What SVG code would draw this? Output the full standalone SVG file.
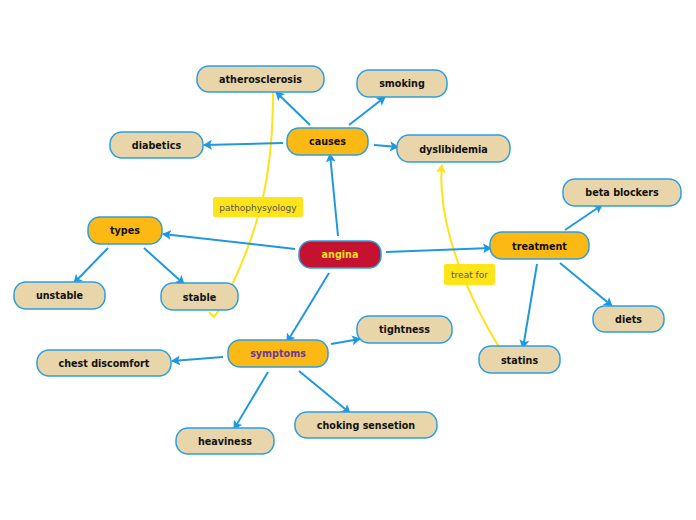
<svg xmlns="http://www.w3.org/2000/svg" width="696" height="520" viewBox="0 0 696 520">
<defs>
<style>
.n rect{stroke:#2c9ee0;stroke-width:1.5}
.sub rect{fill:#e8d5aa}
.mid rect{fill:#fdb913}
.n text{font-family:"DejaVu Sans",Verdana,sans-serif;font-weight:bold;font-size:9.6px;text-anchor:middle;fill:#111}
.c line{stroke:#2098e0;stroke-width:2;marker-end:url(#ab)}
.rel{fill:none;stroke:#ffe21a;stroke-width:2}
.lb rect{fill:#ffe419}
.lb text{font-family:"DejaVu Sans",Verdana,sans-serif;font-size:9px;fill:#555;text-anchor:middle}
</style>
<marker id="ab" markerWidth="10" markerHeight="10" refX="8" refY="5" orient="auto" markerUnits="userSpaceOnUse">
<path d="M0,0 L9,5 L0,10 L2,5 z" fill="#2098e0"/>
</marker>
<marker id="ay" markerWidth="10" markerHeight="10" refX="8" refY="5" orient="auto" markerUnits="userSpaceOnUse">
<path d="M0,0 L9,5 L0,10 L2,5 z" fill="#ffe21a"/>
</marker>
</defs>
<rect width="696" height="520" fill="#fff"/>
<g id="relations">
<path class="rel" d="M273 92 C273 170 262 220 233 283 C225 300 218 312 214 317 L209 312"/>
<path class="rel" d="M499 347 C470 300 445 240 442 192 C441 180 441 172 442 165" marker-end="url(#ay)"/>
</g>
<g id="connectors" class="c">
<line x1="310" y1="125" x2="276" y2="92"/>
<line x1="349" y1="125" x2="385" y2="97"/>
<line x1="283" y1="143" x2="204" y2="145"/>
<line x1="374" y1="145" x2="398" y2="147"/>
<line x1="338" y1="236" x2="330" y2="154"/>
<line x1="295" y1="249" x2="163" y2="234"/>
<line x1="386" y1="252" x2="491" y2="248"/>
<line x1="329" y1="273" x2="287" y2="342"/>
<line x1="108" y1="248" x2="74" y2="283"/>
<line x1="144" y1="248" x2="184" y2="284"/>
<line x1="331" y1="344" x2="360" y2="339"/>
<line x1="223" y1="357" x2="172" y2="361"/>
<line x1="268" y1="372" x2="234" y2="429"/>
<line x1="299" y1="371" x2="350" y2="413"/>
<line x1="565" y1="230" x2="602" y2="205"/>
<line x1="537" y1="264" x2="523" y2="348"/>
<line x1="560" y1="263" x2="612" y2="306"/>
</g>
<g id="atherosclerosis" class="n sub"><rect x="197" y="66" width="127" height="26" rx="12"/><text x="260.5" y="82.5">atherosclerosis</text></g>
<g id="smoking" class="n sub"><rect x="357" y="70" width="90" height="27" rx="12"/><text x="402" y="87">smoking</text></g>
<g id="causes" class="n mid"><rect x="287" y="128" width="81" height="27" rx="12"/><text x="327.5" y="145">causes</text></g>
<g id="dyslibidemia" class="n sub"><rect x="397" y="135" width="113" height="27" rx="12"/><text x="453.5" y="152.5">dyslibidemia</text></g>
<g id="diabetics" class="n sub"><rect x="110" y="132" width="93" height="26" rx="12"/><text x="156.5" y="148.5">diabetics</text></g>
<g id="types" class="n mid"><rect x="88" y="217" width="74" height="27" rx="12"/><text x="125" y="234">types</text></g>
<g id="angina" class="n"><rect x="299" y="241" width="82" height="27" rx="12" fill="#c41230"/><text x="340" y="258" style="fill:#f5e11c">angina</text></g>
<g id="treatment" class="n mid"><rect x="490" y="232" width="99" height="27" rx="12"/><text x="539.5" y="249.5">treatment</text></g>
<g id="beta-blockers" class="n sub"><rect x="563" y="179" width="118" height="27" rx="12"/><text x="622" y="196">beta blockers</text></g>
<g id="unstable" class="n sub"><rect x="14" y="282" width="91" height="27" rx="12"/><text x="59.5" y="299">unstable</text></g>
<g id="stable" class="n sub"><rect x="161" y="283" width="77" height="27" rx="12"/><text x="199.5" y="300.5">stable</text></g>
<g id="symptoms" class="n mid"><rect x="228" y="340" width="100" height="27" rx="12"/><text x="278" y="357" style="fill:#6a3a9a">symptoms</text></g>
<g id="tightness" class="n sub"><rect x="357" y="316" width="95" height="27" rx="12"/><text x="404.5" y="333">tightness</text></g>
<g id="chest-discomfort" class="n sub"><rect x="37" y="350" width="134" height="26" rx="12"/><text x="104" y="366.5">chest discomfort</text></g>
<g id="heaviness" class="n sub"><rect x="176" y="428" width="98" height="26" rx="12"/><text x="225" y="444.5">heaviness</text></g>
<g id="choking-sensetion" class="n sub"><rect x="295" y="412" width="142" height="26" rx="12"/><text x="366" y="428.5">choking sensetion</text></g>
<g id="statins" class="n sub"><rect x="479" y="346" width="81" height="27" rx="12"/><text x="519.5" y="363.5">statins</text></g>
<g id="diets" class="n sub"><rect x="593" y="306" width="71" height="26" rx="12"/><text x="628.5" y="322.5">diets</text></g>
<g id="label-pathophysyology" class="lb"><rect x="213" y="197" width="90" height="20" rx="2"/><text x="258" y="210.5">pathophysyology</text></g>
<g id="label-treat-for" class="lb"><rect x="444" y="264" width="51" height="21" rx="2"/><text x="469.5" y="277.5">treat for</text></g>
</svg>
